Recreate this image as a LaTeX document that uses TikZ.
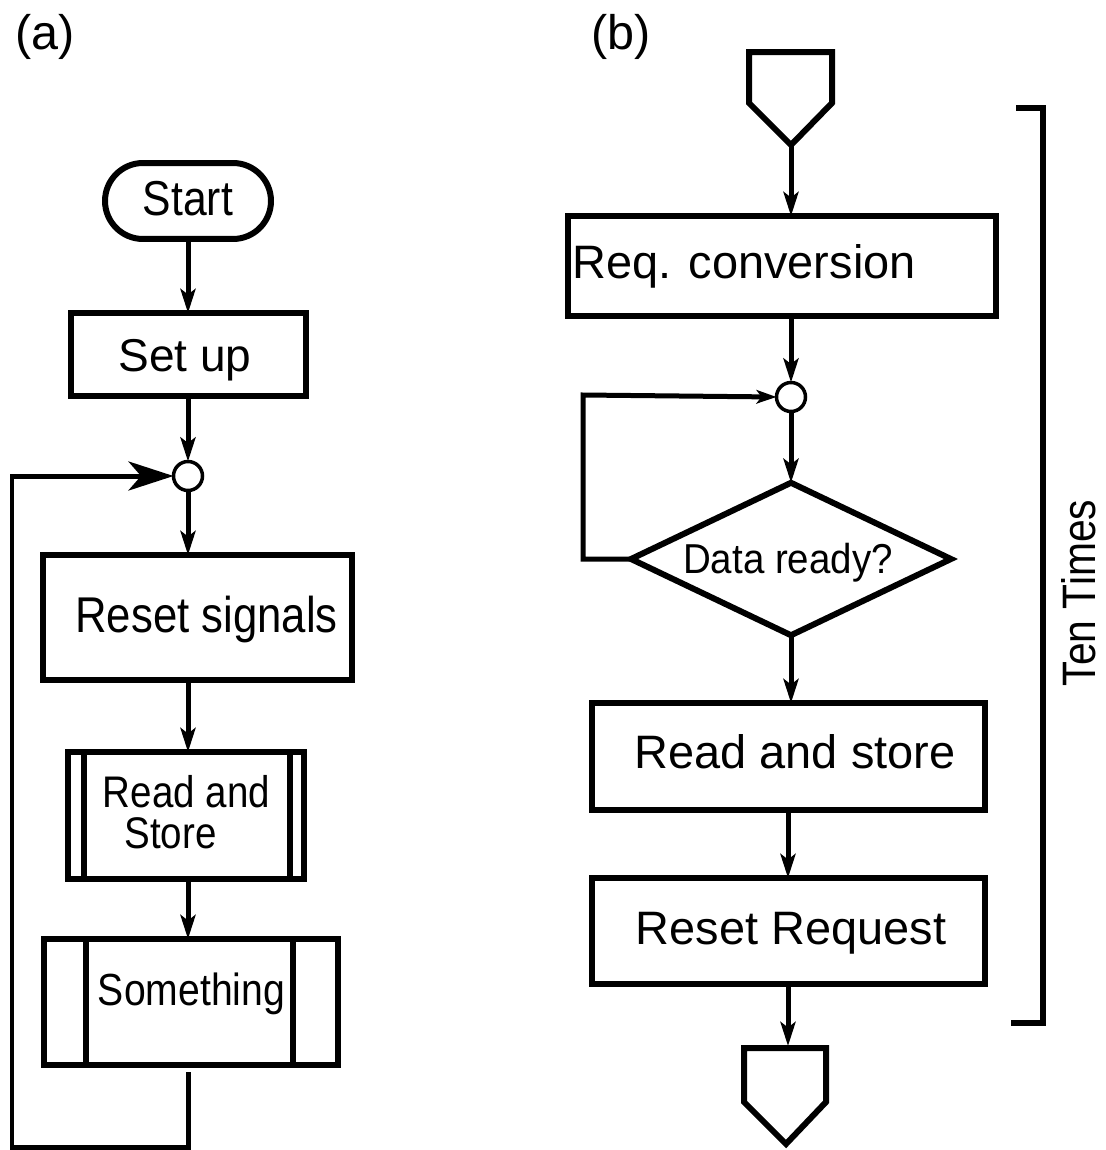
\documentclass[tikz,border=0pt]{standalone}
\usepackage{fontspec}
\setmainfont{Liberation Sans}
\newfontfamily\narA{Liberation Sans}[FakeStretch=0.87]
\newfontfamily\narB{Liberation Sans}[FakeStretch=0.92]
\usetikzlibrary{shapes.geometric,shapes.misc,arrows.meta,calc}
\newcommand\pxf[1]{\fontsize{#1pt}{#1pt}\selectfont}
\tikzset{
  boxs/.style={draw, line width=0.12cm, inner sep=0pt, outer sep=0pt},
  termbox/.style={boxs, rounded rectangle},
  rectbox/.style={boxs, rectangle},
  dmd/.style={boxs, diamond},
  junc/.style={draw, circle, line width=0.07cm, minimum size=0.58cm, inner sep=0pt, outer sep=0pt},
  conn/.style={line width=0.1cm},
  arr/.style={conn, -{Stealth[length=0.48cm,width=0.3cm,inset=0.11cm]}},
  arrs/.style={conn, -{Stealth[length=0.4cm,width=0.27cm,inset=0.1cm]}},
  bigarr/.style={conn, -{Stealth[length=0.9cm,width=0.58cm,inset=0.25cm]}},
  txt/.style={inner sep=0pt, outer sep=0pt, anchor=base},
  brk/.style={line width=0.11cm},
}
\begin{document}
\begin{tikzpicture}[x=0.02cm,y=-0.02cm]
\useasboundingbox (0,0) rectangle (1106,1150);

% ---------- panel (a) ----------
\node[txt, font=\pxf{27.6}] (la) at (45,49) {(a)};
\node[termbox, minimum width=3.32cm, minimum height=1.52cm] (start) at (188,201) {};
\node[txt, font={\narA\pxf{27.9}}] (tstart) at (188,215) {Start};
\node[rectbox, minimum width=4.7cm, minimum height=1.66cm] (setup) at (188.5,354.5) {};
\node[txt, font=\pxf{26.2}] (tsetup) at (185,371) {Set up};
\node[junc] (c1) at (188,476) {};
\node[rectbox, minimum width=6.18cm, minimum height=2.5cm] (reset) at (197.5,617.5) {};
\node[txt, font={\narA\pxf{28.6}}] (treset) at (206.5,632) {Reset signals};
\node[rectbox, minimum width=4.72cm, minimum height=2.54cm] (rsa) at (186,815.5) {};
\draw[boxs] ([xshift=0.32cm]rsa.north west) -- ([xshift=0.32cm]rsa.south west);
\draw[boxs] ([xshift=-0.28cm]rsa.north east) -- ([xshift=-0.28cm]rsa.south east);
\node[txt, font={\narA\pxf{25.2}}] (trsa1) at (186.5,807) {Read and};
\node[txt, font={\narA\pxf{25.2}}] (trsa2) at (170.5,848) {Store};
\node[rectbox, minimum width=5.88cm, minimum height=2.52cm] (some) at (191,1002) {};
\draw[boxs] ([xshift=0.84cm]some.north west) -- ([xshift=0.84cm]some.south west);
\draw[boxs] ([xshift=-0.9cm]some.north east) -- ([xshift=-0.9cm]some.south east);
\node[txt, font={\narA\pxf{25.6}}] (tsome) at (191.5,1005) {Something};

\draw[arr] (start.south -| c1) -- (c1 |- setup.north);
\draw[arr] (setup.south -| c1) -- (c1.north);
\draw[arr] (c1.south) -- (c1 |- reset.north);
\draw[arr] (reset.south -| c1) -- (c1 |- rsa.north);
\draw[arr] (rsa.south -| c1) -- (c1 |- some.north);
\coordinate (lb) at (188,1147);
\coordinate (lt) at (12,476);
\draw[bigarr] ($(some.south -| c1)+(0,7)$) -- (lb) -- (lb -| lt) -- (lt) -- (c1.west);

% ---------- panel (b) ----------
\node[txt, font=\pxf{27.6}] (lbb) at (621,49) {(b)};
\coordinate (p1a) at (749,52);
\coordinate (p1b) at (832,52);
\coordinate (p1c) at (832,103);
\coordinate (p1tip) at (791,145);
\coordinate (p1d) at (749,103);
\draw[boxs] (p1a) -- (p1b) -- (p1c) -- (p1tip) -- (p1d) -- cycle;

\node[rectbox, minimum width=8.56cm, minimum height=2.0cm] (req) at (782,266) {};
\node[txt, font=\pxf{26.7}] (treq) at (744,278) {Req. conversion};
\node[junc] (c2) at (791,397) {};
\node[dmd, minimum width=6.4cm, minimum height=3.05cm] (dr) at (791,559) {};
\node[txt, font={\narB\pxf{23.8}}] (tdr) at (788,573) {Data ready?};
\node[rectbox, minimum width=7.86cm, minimum height=2.14cm] (rsb) at (788.5,756.5) {};
\node[txt, font=\pxf{26.7}] (trsb) at (795,768) {Read and store};
\node[rectbox, minimum width=7.86cm, minimum height=2.12cm] (rr) at (788.5,931) {};
\node[txt, font=\pxf{26.7}] (trr) at (791,944) {Reset Request};

\coordinate (p2a) at (744,1048);
\coordinate (p2b) at (826,1048);
\coordinate (p2c) at (826,1102);
\coordinate (p2tip) at (786,1144);
\coordinate (p2d) at (744,1102);
\draw[boxs] (p2a) -- (p2b) -- (p2c) -- (p2tip) -- (p2d) -- cycle;
\coordinate (p2top) at (788,1046);

\draw[arr] (p1tip) -- (p1tip |- req.north);
\draw[arr] (req.south -| c2) -- (c2.north);
\draw[arr] (c2.south) -- (dr.north);
\draw[arr] (dr.south) -- (dr.south |- rsb.north);
\draw[arr] (rsb.south -| p2top) -- (p2top |- rr.north);
\draw[arr] (rr.south -| p2top) -- (p2top);
\coordinate (lc) at (583,395);
\draw[arrs] (dr.west) -- (dr.west -| lc) -- (lc) -- (c2.west);

\coordinate (bt) at (1016,108);
\coordinate (bb) at (1011,1023);
\draw[brk] (bt) -- (1043,108) -- (1043,1023) -- (bb);
\node[inner sep=0pt, rotate=90, font={\narA\pxf{26.7}}] (ten) at (1079,593) {Ten Times};
\end{tikzpicture}
\end{document}
